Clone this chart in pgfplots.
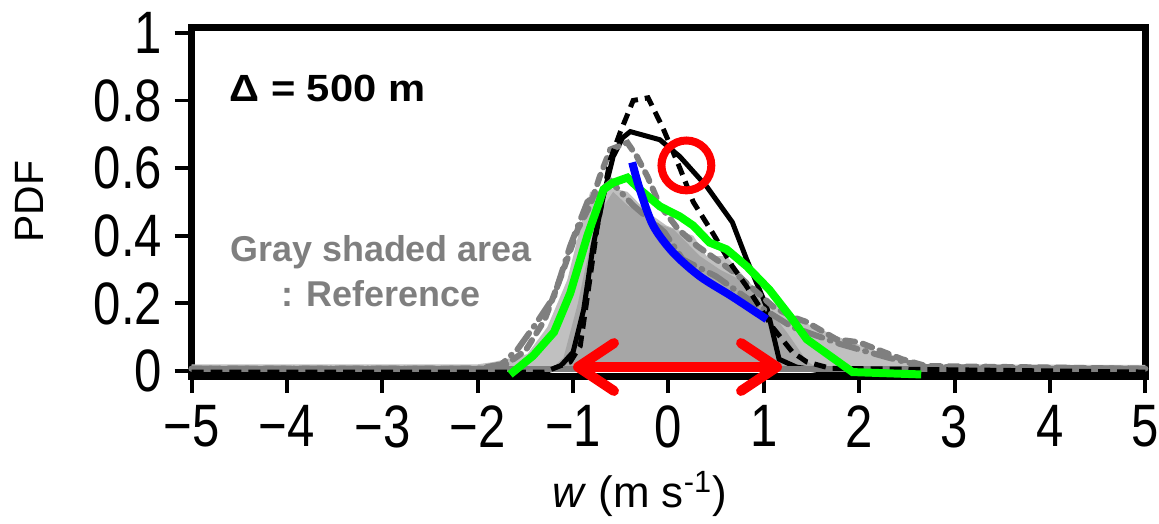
\documentclass[border=0pt]{standalone}
\usepackage{fontspec}
\setmainfont{Liberation Sans}
\newfontfamily\tickfont[FakeStretch=0.82]{Liberation Sans}
\newfontfamily\deltafont[FakeStretch=1.1]{Liberation Sans}
\usepackage{pgfplots}
\pgfplotsset{compat=1.18}
\usetikzlibrary{arrows.meta}
\definecolor{lgray}{RGB}{192,192,192}
\definecolor{dgray}{RGB}{166,166,166}
\definecolor{mgray}{RGB}{127,127,127}
\definecolor{mygreen}{RGB}{0,255,0}
\begin{document}
\begin{tikzpicture}
\begin{axis}[
  scale only axis, width=478pt, height=174.75pt,
  xmin=-5, xmax=5, ymin=-0.015, ymax=1.016,
  clip=false,
  axis line style={line width=3.5pt, black},
  xtick={-5,-4,-3,-2,-1,0,1,2,3,4,5},
  xticklabels={−5,−4,−3,−2,−1,0,1,2,3,4,5},
  ytick={0,0.2,0.4,0.6,0.8,1},
  yticklabels={0,0.2,0.4,0.6,0.8,1},
  tick align=outside, xtick pos=left, ytick pos=left,
  major tick length=8.5pt,
  tick style={line width=2pt, black},
  ticklabel style={font=\tickfont\fontsize{30}{30}\selectfont},
  xticklabel style={inner xsep=0pt, inner ysep=6pt},
  yticklabel style={inner xsep=6pt, inner ysep=0pt},
  xlabel={\textit{w} (m s\textsuperscript{-1})},
  xlabel style={font=\fontsize{22}{24}\selectfont, at={(axis description cs:0.4697,-0.3376)}, anchor=center},
  ylabel={PDF},
  ylabel style={font=\fontsize{20.5}{22}\selectfont, at={(axis description cs:-0.1695,0.5)}, anchor=center},
]
% reference envelope (light gray)
\addplot[fill=lgray, draw=none] coordinates {
(-5,0.02) (-2.0,0.02) (-1.83,0.027) (-1.48,0.05) (-1.27,0.13) (-1.06,0.27) (-0.92,0.43) (-0.82,0.53)
(-0.58,0.54) (-0.43,0.53) (-0.22,0.47) (-0.02,0.43) (0.26,0.40) (0.40,0.34) (0.61,0.34) (0.82,0.27)
(1.0,0.22) (1.37,0.15) (1.79,0.10) (2.31,0.045) (2.66,0.02) (5,0.018)} \closedcycle;
% reference (dark gray)
\addplot[fill=dgray, draw=none] coordinates {
(-1.25,0) (-1.1,0.04) (-0.95,0.2) (-0.8,0.40) (-0.72,0.47) (-0.58,0.53) (-0.43,0.49) (-0.16,0.44)
(0.05,0.42) (0.33,0.34) (0.54,0.30) (0.75,0.27) (1.03,0.19) (1.24,0.115) (1.45,0.03) (1.6,0)} \closedcycle;
% black solid
\addplot[black, line width=2.5pt] coordinates {
(-5,-0.003) (-1.3,-0.003) (-1.13,0.015) (-1.0,0.056) (-0.89,0.18) (-0.79,0.37) (-0.68,0.52) (-0.58,0.634)
(-0.48,0.69) (-0.40,0.708) (-0.09,0.684) (0.12,0.634) (0.40,0.546) (0.67,0.44) (0.82,0.33) (1.03,0.19)
(1.16,0.035) (1.34,0.012) (1.6,0.0) (5,-0.003)};
% gray baseline
\addplot[mgray, line width=3pt] coordinates {(-5,0.007) (5,0.007)};
% gray dash-dot
\addplot[mgray, line width=3pt, line cap=round, dash pattern=on 10pt off 4pt on 0.5pt off 4pt] coordinates {
(-5,0.007) (-2.0,0.007) (-1.75,0.02) (-1.58,0.065) (-1.39,0.14) (-1.2,0.22) (-1.03,0.37) (-0.85,0.5)
(-0.6,0.56) (-0.37,0.49) (-0.04,0.41) (0.15,0.33) (0.5,0.28) (0.9,0.2) (1.3,0.13) (1.8,0.08) (2.3,0.04) (2.7,0.012) (5,0.007)};
% gray dashed
\addplot[mgray, line width=3pt, line cap=round, dash pattern=on 5pt off 4pt] coordinates {
(-5,0.007) (-1.9,0.007) (-1.7,0.02) (-1.5,0.06) (-1.3,0.15) (-1.1,0.3) (-0.95,0.42) (-0.82,0.49)
(-0.72,0.575) (-0.61,0.655) (-0.43,0.675) (-0.33,0.634) (-0.22,0.575) (-0.09,0.49) (0.1,0.42) (0.3,0.37)
(0.5,0.33) (0.7,0.29) (0.9,0.24) (1.1,0.19) (1.3,0.16) (1.45,0.145) (1.76,0.094) (2.0,0.085) (2.45,0.035) (2.7,0.015) (5,0.007)};
% black dashed
\addplot[black, line width=2.5pt, dash pattern=on 6pt off 3.5pt] coordinates {
(-5,-0.003) (-1.3,-0.003) (-1.03,0.027) (-0.925,0.074) (-0.85,0.22) (-0.75,0.42) (-0.61,0.625)
(-0.507,0.705) (-0.37,0.80) (-0.214,0.808) (-0.06,0.72) (0.12,0.60) (0.26,0.50) (0.46,0.41) (0.67,0.31)
(0.82,0.25) (1.09,0.13) (1.30,0.056) (1.45,0.027) (1.7,0.008) (5,-0.003)};
% green
\addplot[mygreen, line width=4pt] coordinates {
(-1.66,-0.01) (-1.42,0.045) (-1.2,0.115) (-1.03,0.23) (-0.85,0.40) (-0.68,0.537) (-0.58,0.557)
(-0.43,0.572) (-0.30,0.537) (-0.09,0.487) (0.12,0.457) (0.26,0.43) (0.43,0.38) (0.61,0.36) (0.82,0.31)
(1.06,0.24) (1.30,0.153) (1.45,0.094) (1.93,-0.003) (2.65,-0.01)};
% blue
\addplot[blue, line width=4pt, smooth] coordinates {
(-0.38,0.617) (-0.30,0.537) (-0.16,0.43) (0.05,0.35) (0.33,0.28) (0.67,0.22) (1.03,0.153)};
% red circle
\addplot[only marks, mark=o, mark size=12.5pt, mark options={line width=4pt, draw=red}] coordinates {(0.188,0.608)};
% red arrow
\addplot[red, line width=5pt, arrows={Straight Barb[length=18pt,width=24pt,round]-Straight Barb[length=18pt,width=24pt,round]}] coordinates {(-1.0,0.012) (1.19,0.012)};
\node[anchor=base west, font=\deltafont\bfseries\fontsize{19}{20}\selectfont] at (axis description cs:0.0324,0.7868) {Δ = 500 m};
\node[anchor=base, text=mgray, font=\bfseries\fontsize{18}{20}\selectfont] at (axis description cs:0.1987,0.329) {Gray shaded area};
\node[anchor=base, text=mgray, font=\bfseries\fontsize{18}{20}\selectfont] at (axis description cs:0.1987,0.2003) {: Reference};
\end{axis}
\path (-96pt,-68.5pt) rectangle (483.5pt,188.5pt);
\end{tikzpicture}
\end{document}
